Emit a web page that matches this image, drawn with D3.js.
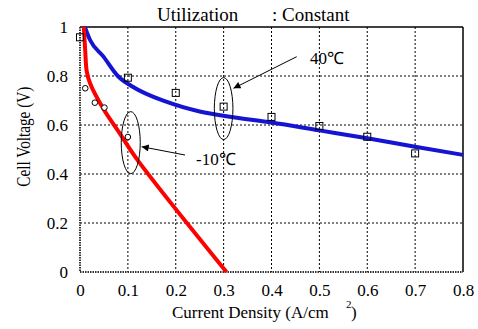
<!DOCTYPE html>
<html><head><meta charset="utf-8">
<script src="https://cdn.jsdelivr.net/npm/d3@7"></script>
<style>body{margin:0;background:#fff}</style>
</head><body><svg id="c" width="478" height="329"></svg>
<script>
const xTicks = [0,0.1,0.2,0.3,0.4,0.5,0.6,0.7,0.8];
const yTicks = [0,0.2,0.4,0.6,0.8,1];
const xTickLabels = ["0","0.1","0.2","0.3","0.4","0.5","0.6","0.7","0.8"];
const yTickLabels = ["0","0.2","0.4","0.6","0.8","1"];
// Measured points
const sq40X = [0.0, 0.1, 0.2, 0.3, 0.4, 0.5, 0.6, 0.7];
const sq40V = [0.958, 0.793, 0.731, 0.675, 0.633, 0.596, 0.552, 0.484];
const circ10X = [0.011, 0.031, 0.051, 0.1];
const circ10V = [0.75, 0.691, 0.671, 0.551];
// Fitted curves
const curve40X = [0.01,0.021,0.049,0.079,0.111,0.18,0.25,0.32,0.4,0.5,0.6,0.7,0.8];
const curve40V = [1.0,0.947,0.879,0.80,0.755,0.695,0.655,0.632,0.61,0.578,0.546,0.511,0.478];
const curve10X = [0.008,0.011,0.014,0.021,0.049,0.083,0.118,0.306];
const curve10V = [1.0,0.9,0.82,0.77,0.665,0.566,0.463,0.0];

const FONT = '"Liberation Serif"';
const svg = d3.select("#c");
const L=80,R=463,T=27,B=272;
const x = d3.scaleLinear().domain([0,0.8]).range([L,R]);
const y = d3.scaleLinear().domain([0,1]).range([B,T]);

// grid
const g = svg.append("g");
g.selectAll("line.vx").data(xTicks.slice(1,-1)).enter().append("line")
 .attr("x1",d=>x(d)).attr("x2",d=>x(d)).attr("y1",T).attr("y2",B)
 .attr("stroke","#000").attr("stroke-width",1).attr("stroke-dasharray","2,2");
g.selectAll("line.hy").data(yTicks.slice(1,-1)).enter().append("line")
 .attr("y1",d=>y(d)).attr("y2",d=>y(d)).attr("x1",L).attr("x2",R)
 .attr("stroke","#000").attr("stroke-width",1).attr("stroke-dasharray","2,2");
// frame
g.append("line").attr("x1",L).attr("x2",R).attr("y1",T).attr("y2",T).attr("stroke","#000").attr("stroke-width",1.5);
g.append("line").attr("x1",R).attr("x2",R).attr("y1",T).attr("y2",B).attr("stroke","#000").attr("stroke-width",1.5);
g.append("line").attr("x1",L).attr("x2",L).attr("y1",T).attr("y2",B).attr("stroke","#333").attr("stroke-width",2).attr("stroke-dasharray","1.5,1");
g.append("line").attr("x1",L).attr("x2",R).attr("y1",B).attr("y2",B).attr("stroke","#333").attr("stroke-width",2).attr("stroke-dasharray","1.5,1");

// axes tick labels via d3 axes
const xAxis = d3.axisBottom(x).tickValues(xTicks).tickFormat((d,i)=>xTickLabels[i]).tickSize(0).tickPadding(12);
const ax = svg.append("g").attr("transform",`translate(0,${B})`).call(xAxis);
ax.select(".domain").remove();
ax.attr("font-family",FONT).attr("font-size",17);
ax.selectAll("text").attr("fill","#000").attr("font-family",FONT).attr("font-size",17);
const yAxis = d3.axisLeft(y).tickValues(yTicks).tickFormat((d,i)=>yTickLabels[i]).tickSize(0).tickPadding(12);
const ay = svg.append("g").attr("transform",`translate(${L},0)`).call(yAxis);
ay.select(".domain").remove();
ay.attr("font-family",FONT).attr("font-size",17);
ay.selectAll("text").attr("fill","#000").attr("font-family",FONT).attr("font-size",17);

// curves
const line = d3.line().x(d=>x(d[0])).y(d=>y(d[1])).curve(d3.curveMonotoneX);
svg.append("path").datum(curve40X.map((v,i)=>[v,curve40V[i]])).attr("d",line)
 .attr("fill","none").attr("stroke","#1414d2").attr("stroke-width",4);
const line2 = d3.line().x(d=>x(d[0])).y(d=>y(d[1])).curve(d3.curveCatmullRom.alpha(0.5));
svg.append("path").datum(curve10X.map((v,i)=>[v,curve10V[i]])).attr("d",line2)
 .attr("fill","none").attr("stroke","#ff0000").attr("stroke-width",4);

// markers
svg.selectAll("rect.sq").data(sq40X.map((v,i)=>[v,sq40V[i]])).enter().append("rect")
 .attr("x",d=>x(d[0])-3.5).attr("y",d=>y(d[1])-3.5).attr("width",7).attr("height",7)
 .attr("fill","none").attr("stroke","#000").attr("stroke-width",1);
svg.selectAll("circle.ci").data(circ10X.map((v,i)=>[v,circ10V[i]])).enter().append("circle")
 .attr("cx",d=>x(d[0])).attr("cy",d=>y(d[1])).attr("r",2.8)
 .attr("fill","#fff").attr("stroke","#000").attr("stroke-width",1);

// annotations
svg.append("defs").append("marker").attr("id","ah").attr("viewBox","0 0 10 10").attr("refX",10).attr("refY",5)
 .attr("markerWidth",10).attr("markerHeight",7).attr("markerUnits","userSpaceOnUse").attr("orient","auto")
 .append("path").attr("d","M0,0L10,5L0,10z").attr("fill","#000");
svg.append("ellipse").attr("cx",x(0.3)).attr("cy",y(0.667)).attr("rx",9.3).attr("ry",31)
 .attr("fill","none").attr("stroke","#000").attr("stroke-width",1);
svg.append("ellipse").attr("cx",x(0.106)).attr("cy",y(0.528)).attr("rx",9.5).attr("ry",31)
 .attr("fill","none").attr("stroke","#000").attr("stroke-width",1);
svg.append("line").attr("x1",296.7).attr("y1",56.7).attr("x2",233.5).attr("y2",88.3)
 .attr("stroke","#000").attr("stroke-width",1).attr("marker-end","url(#ah)");
svg.append("line").attr("x1",185).attr("y1",155).attr("x2",141.7).attr("y2",146.7)
 .attr("stroke","#000").attr("stroke-width",1).attr("marker-end","url(#ah)");

function txt(xp,yp,size,s){
  return svg.append("text").attr("x",xp).attr("y",yp).attr("font-family",FONT).attr("font-size",size).attr("fill","#000").text(s);
}
txt(310,63.5,17,"40℃");
txt(196,165,17,"-10℃");
txt(157,21,19,"Utilization");
txt(272,21,19,": Constant");
txt(172,318,17,"Current Density (A/cm");
txt(346,308,11,"2");
txt(351,318,17,")");
svg.append("text").attr("transform","translate(30,136.7) rotate(-90)").attr("text-anchor","middle")
 .attr("font-family",FONT).attr("font-size",18).attr("fill","#000")
 .attr("textLength",100).attr("lengthAdjust","spacingAndGlyphs").text("Cell Voltage (V)");
</script></body></html>
